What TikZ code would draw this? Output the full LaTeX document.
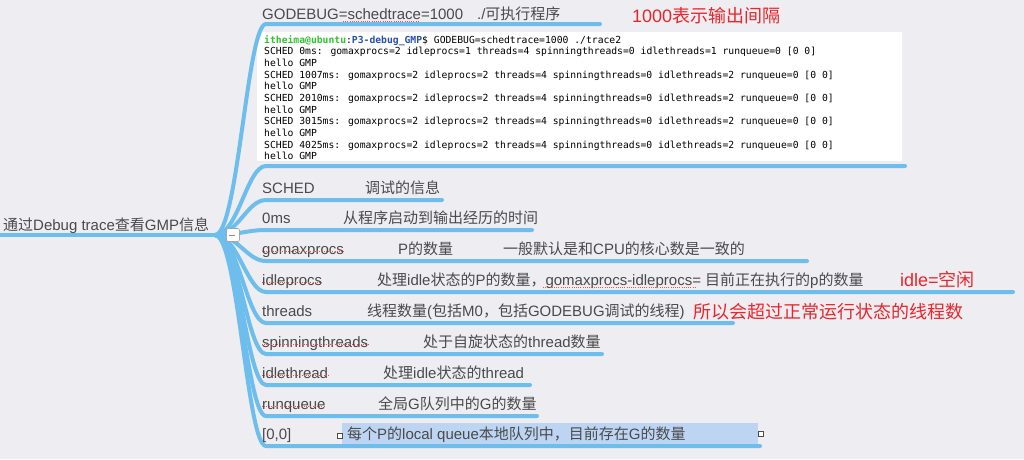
\documentclass[tikz,border=0pt]{standalone}
\usepackage{fontspec}
\setmainfont{Liberation Sans}
\newfontfamily\cjk{Noto Sans CJK SC}
\newfontfamily\termfont{DejaVu Sans Mono}
\newcommand\zh[1]{{\cjk #1}}
\definecolor{bgc}{HTML}{EEEDF2}
\definecolor{brc}{HTML}{6DBEEC}
\definecolor{txt}{HTML}{4A4A4A}
\definecolor{note}{HTML}{E8262B}
\definecolor{tgreen}{HTML}{33C233}
\definecolor{tblue}{HTML}{2A4FB0}
\definecolor{sel}{HTML}{BDD5F3}
\begin{document}
\begin{tikzpicture}[x=1pt,y=-1pt,
  lbl/.style={anchor=base west, inner sep=0, text=txt, font=\fontsize{15}{18}\selectfont},
  notetext/.style={anchor=base west, inner sep=0, text=note, font=\fontsize{18}{21}\selectfont},
  branch/.style={draw=brc, line width=4pt, line cap=round},
  term/.style={anchor=base west, inner sep=0, text=black, font=\termfont\fontsize{9.72}{11.67}\selectfont},
  spell/.style={draw=note!80, line width=1pt, dash pattern=on 1pt off 1.2pt},
  handle/.style={draw=black!70, fill=white, minimum size=5pt, inner sep=0, line width=0.8pt}]
\useasboundingbox (0,0) rectangle (1024,459);
\fill[bgc] (0,0) rectangle (1024,459);

% terminal screenshot
\node[fill=white, inner sep=0, minimum width=645pt, minimum height=129pt, anchor=north west] (termbox) at (257,32) {};

% selection highlight
\fill[sel] (342,423) rectangle (758,446);

% root
\coordinate (hub) at (215,235);
\coordinate (rootstart) at (0,235);
\draw[branch] (rootstart) -- (hub);
\node[lbl, anchor=base west] (root) at (3,230) {\zh{通过}Debug trace\zh{查看}GMP\zh{信息}};

% branches
\foreach \Y/\E [count=\i] in {24/600,166/905,200/442,230/532,261/807,292/1013,323/733,354/602,385/530,416/537,446/760}{
  \coordinate (s\i) at (266,\Y);
  \coordinate (e\i) at (\E,\Y);
  \draw[branch] (hub) .. controls (238,235) and (247,\Y) .. (s\i) -- (e\i);
}

% collapse toggle
\node[draw=black!35, fill=white, rounded corners=1.5pt, minimum size=13pt, inner sep=0, line width=0.6pt] (toggle) at (233,235) {};
\draw[black!45, line width=0.6pt] ([xshift=-4pt]toggle.center) -- ([xshift=2pt]toggle.center);

% top branch
\node[lbl] (cmd) at (262,19) {GODEBUG=schedtrace=1000\hspace{14pt}./\zh{可执行程序}};
\draw[spell] (343,21.5) -- (419,21.5);
\node[notetext] (n1000) at (632,22) {1000\zh{表示输出间隔}};

% terminal text
\node[term] (t1) at (264,43) {\textbf{\textcolor{tgreen}{itheima@ubuntu}}:\textbf{\textcolor{tblue}{P3-debug\_GMP}}\$ GODEBUG=schedtrace=1000 ./trace2};
\node[term] (t2) at (264,54.67) {SCHED 0ms: gomaxprocs=2 idleprocs=1 threads=4 spinningthreads=0 idlethreads=1 runqueue=0 [0 0]};
\node[term] (t3) at (264,66.33) {hello GMP};
\node[term] (t4) at (264,78) {SCHED 1007ms: gomaxprocs=2 idleprocs=2 threads=4 spinningthreads=0 idlethreads=2 runqueue=0 [0 0]};
\node[term] (t5) at (264,89.67) {hello GMP};
\node[term] (t6) at (264,101.33) {SCHED 2010ms: gomaxprocs=2 idleprocs=2 threads=4 spinningthreads=0 idlethreads=2 runqueue=0 [0 0]};
\node[term] (t7) at (264,113) {hello GMP};
\node[term] (t8) at (264,124.67) {SCHED 3015ms: gomaxprocs=2 idleprocs=2 threads=4 spinningthreads=0 idlethreads=2 runqueue=0 [0 0]};
\node[term] (t9) at (264,136.33) {hello GMP};
\node[term] (t10) at (264,148) {SCHED 4025ms: gomaxprocs=2 idleprocs=2 threads=4 spinningthreads=0 idlethreads=2 runqueue=0 [0 0]};
\node[term] (t11) at (264,159.67) {hello GMP};

% rows
\node[lbl] (sched) at (262,193) {SCHED};
\node[lbl] (schedd) at (365,193) {\zh{调试的信息}};

\node[lbl] (ms) at (262,223) {0ms};
\node[lbl] (msd) at (343,223) {\zh{从程序启动到输出经历的时间}};

\node[lbl] (gmp) at (262,254) {gomaxprocs};
\node[lbl] (gmpd) at (398,254) {P\zh{的数量}};
\node[lbl] (gmpe) at (503,254) {\zh{一般默认是和}CPU\zh{的核心数是一致的}};
\draw[spell] ([yshift=2.5pt]gmp.base west) -- ([yshift=2.5pt]gmp.base east);

\node[lbl] (idp) at (262,285) {idleprocs};
\node[lbl] (idpd) at (377,285) {\zh{处理}idle\zh{状态的}P\zh{的数量，}gomaxprocs-idleprocs= \zh{目前正在执行的}p\zh{的数量}};
\node[notetext] (nidle) at (900,286) {idle=\zh{空闲}};
\draw[spell] ([yshift=2.5pt]idp.base west) -- ([yshift=2.5pt]idp.base east);
\draw[spell] (543,287.5) -- (697,287.5);

\node[lbl] (thr) at (262,316) {threads};
\node[lbl] (thrd) at (367,316) {\zh{线程数量}(\zh{包括}M0\zh{，包括}GODEBUG\zh{调试的线程})};
\node[notetext] (nthr) at (693,318) {\zh{所以会超过正常运行状态的线程数}};

\node[lbl] (spin) at (262,347) {spinningthreads};
\node[lbl] (spind) at (423,347) {\zh{处于自旋状态的}thread\zh{数量}};
\draw[spell] ([yshift=2.5pt]spin.base west) -- ([yshift=2.5pt]spin.base east);

\node[lbl] (idt) at (262,378) {idlethread};
\node[lbl] (idtd) at (383,378) {\zh{处理}idle\zh{状态的}thread};
\draw[spell] ([yshift=2.5pt]idt.base west) -- ([yshift=2.5pt]idt.base east);

\node[lbl] (rq) at (262,409) {runqueue};
\node[lbl] (rqd) at (378,409) {\zh{全局}G\zh{队列中的}G\zh{的数量}};
\draw[spell] ([yshift=2.5pt]rq.base west) -- ([yshift=2.5pt]rq.base east);

\node[lbl] (lq) at (262,439) {[0,0]};
\node[lbl] (lqd) at (347,439) {\zh{每个}P\zh{的}local queue\zh{本地队列中，目前存在}G\zh{的数量}};
\node[handle] (h1) at (340,436) {};
\node[handle] (h2) at (761,434) {};
\end{tikzpicture}
\end{document}
